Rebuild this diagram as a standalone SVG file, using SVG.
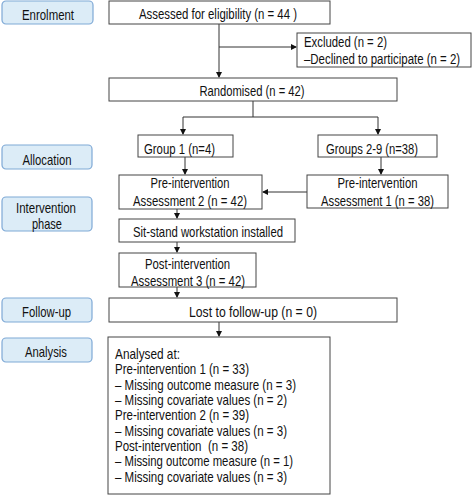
<svg xmlns="http://www.w3.org/2000/svg" width="472" height="498" viewBox="0 0 472 498">
<defs>
<marker id="ah" markerWidth="6" markerHeight="6" refX="5" refY="3" orient="auto" markerUnits="userSpaceOnUse">
<path d="M0,0 L6,3 L0,6 Z" fill="#111"/>
</marker>
<style>
text{font-family:"Liberation Sans",Arial,sans-serif;font-size:14.5px;fill:#111}
.c{text-anchor:middle}
.lab rect{fill:#dcecf7;stroke:#7fa9d6;stroke-width:1.2}
.box rect{fill:#fff;stroke:#444;stroke-width:1}
.con path{fill:none;stroke:#333;stroke-width:1}
</style>
</defs>
<rect width="472" height="498" fill="#fff"/>

<g class="lab" id="enrolment"><rect x="2" y="1" width="91" height="23" rx="4"/><text class="c" x="48" y="19.5" textLength="52" lengthAdjust="spacingAndGlyphs">Enrolment</text></g>
<g class="lab" id="allocation"><rect x="2" y="145" width="90" height="24" rx="4"/><text class="c" x="47" y="165" textLength="49" lengthAdjust="spacingAndGlyphs">Allocation</text></g>
<g class="lab" id="intervention"><rect x="2" y="197" width="90" height="34" rx="4"/><text class="c" x="46" y="212.5" textLength="60" lengthAdjust="spacingAndGlyphs">Intervention</text><text class="c" x="47" y="228.5" textLength="30" lengthAdjust="spacingAndGlyphs">phase</text></g>
<g class="lab" id="followup"><rect x="2" y="298" width="90" height="24" rx="4"/><text class="c" x="46.5" y="317" textLength="49" lengthAdjust="spacingAndGlyphs">Follow-up</text></g>
<g class="lab" id="analysis"><rect x="2" y="338" width="90" height="24" rx="4"/><text class="c" x="46" y="357" textLength="42" lengthAdjust="spacingAndGlyphs">Analysis</text></g>

<g class="con" id="connectors">
<path d="M219,24 V77" marker-end="url(#ah)"/>
<path d="M219,47 H296" marker-end="url(#ah)"/>
<path d="M253,101 V117 M183,117 H378"/>
<path d="M183,117 V134" marker-end="url(#ah)"/>
<path d="M378,117 V134" marker-end="url(#ah)"/>
<path d="M185,157 V174" marker-end="url(#ah)"/>
<path d="M381,157 V174" marker-end="url(#ah)"/>
<path d="M307,192 H263" marker-end="url(#ah)"/>
<path d="M177,209 V218" marker-end="url(#ah)"/>
<path d="M177,242 V252" marker-end="url(#ah)"/>
<path d="M177,287 V297" marker-end="url(#ah)"/>
<path d="M219,322 V336" marker-end="url(#ah)"/>
</g>

<g class="box" id="assessed"><rect x="109" y="1" width="221" height="23"/><text class="c" x="218" y="19.3" textLength="158" lengthAdjust="spacingAndGlyphs">Assessed for eligibility (n = 44 )</text></g>
<g class="box" id="excluded"><rect x="297" y="33" width="174" height="34"/><text x="304" y="46.5" textLength="83" lengthAdjust="spacingAndGlyphs">Excluded (n = 2)</text><text transform="translate(304,64) scale(0.79,1)">–Declined to participate (n = 2)</text></g>
<g class="box" id="randomised"><rect x="109" y="78" width="288" height="23"/><text class="c" x="252" y="96" textLength="105" lengthAdjust="spacingAndGlyphs">Randomised (n = 42)</text></g>
<g class="box" id="group1"><rect x="138" y="135" width="95" height="22"/><text class="c" x="179.5" y="153.5" textLength="71" lengthAdjust="spacingAndGlyphs">Group 1 (n=4)</text></g>
<g class="box" id="groups29"><rect x="318" y="135" width="119" height="22"/><text class="c" x="372" y="153.5" textLength="92" lengthAdjust="spacingAndGlyphs">Groups 2-9 (n=38)</text></g>
<g class="box" id="pre2"><rect x="119" y="175" width="143" height="34"/><text class="c" x="190" y="188" textLength="79" lengthAdjust="spacingAndGlyphs">Pre-intervention</text><text class="c" x="190" y="205.5" textLength="114" lengthAdjust="spacingAndGlyphs">Assessment 2 (n = 42)</text></g>
<g class="box" id="pre1"><rect x="307" y="175" width="141" height="33"/><text class="c" x="377.5" y="188" textLength="80" lengthAdjust="spacingAndGlyphs">Pre-intervention</text><text class="c" x="377.5" y="205.5" textLength="113" lengthAdjust="spacingAndGlyphs">Assessment 1 (n = 38)</text></g>
<g class="box" id="sitstand"><rect x="119" y="219" width="176" height="23"/><text class="c" x="208" y="237" textLength="150" lengthAdjust="spacingAndGlyphs">Sit-stand workstation installed</text></g>
<g class="box" id="post3"><rect x="119" y="253" width="137" height="34"/><text class="c" x="187.5" y="268.5" textLength="85" lengthAdjust="spacingAndGlyphs">Post-intervention</text><text class="c" x="188" y="285.5" textLength="114" lengthAdjust="spacingAndGlyphs">Assessment 3 (n = 42)</text></g>
<g class="box" id="lost"><rect x="109" y="298" width="288" height="24"/><text class="c" x="253" y="317" textLength="128" lengthAdjust="spacingAndGlyphs">Lost to follow-up (n = 0)</text></g>
<g class="box" id="analysed"><rect x="108" y="337" width="222" height="157"/>
<text x="115" y="359" textLength="65" lengthAdjust="spacingAndGlyphs">Analysed at:</text>
<text x="115" y="374.3" textLength="134" lengthAdjust="spacingAndGlyphs">Pre-intervention 1 (n = 33)</text>
<text x="115" y="389.7" textLength="181" lengthAdjust="spacingAndGlyphs">– Missing outcome measure (n = 3)</text>
<text x="115" y="405" textLength="172" lengthAdjust="spacingAndGlyphs">– Missing covariate values (n = 2)</text>
<text x="115" y="420.4" textLength="134" lengthAdjust="spacingAndGlyphs">Pre-intervention 2 (n = 39)</text>
<text x="115" y="435.7" textLength="172" lengthAdjust="spacingAndGlyphs">– Missing covariate values (n = 3)</text>
<text x="115" y="451.1" textLength="133" lengthAdjust="spacingAndGlyphs" xml:space="preserve">Post-intervention  (n = 38)</text>
<text x="115" y="466.4" textLength="178" lengthAdjust="spacingAndGlyphs">– Missing outcome measure (n = 1)</text>
<text x="115" y="481.8" textLength="172" lengthAdjust="spacingAndGlyphs">– Missing covariate values (n = 3)</text>
</g>
</svg>
